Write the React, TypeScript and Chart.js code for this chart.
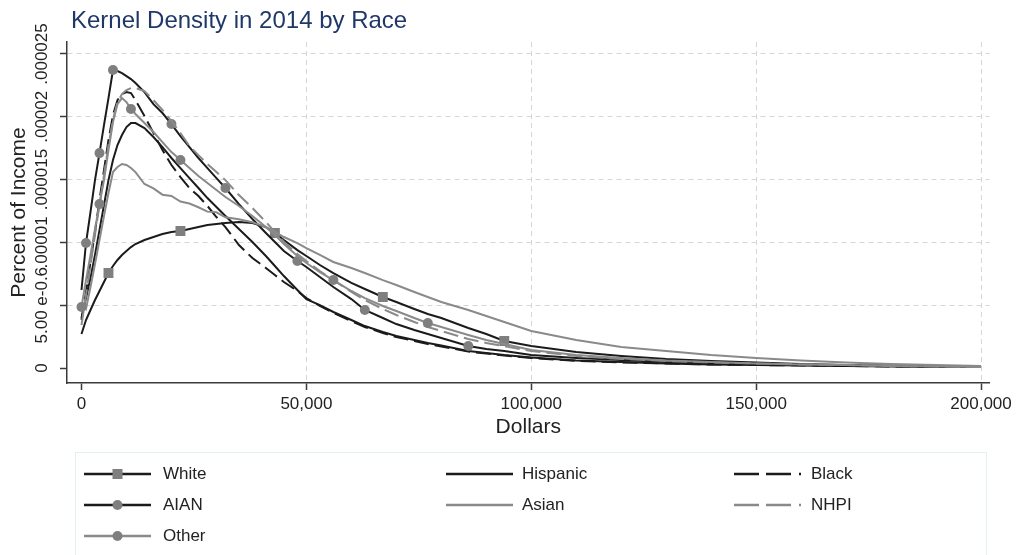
import React, { useEffect, useRef } from "react";
import { Chart, registerables } from "chart.js";

Chart.register(...registerables);

const FONT = '"Liberation Sans", Arial, Helvetica, sans-serif';
const INK = "#1b1b1b";
const GREY = "#8a8a8a";
const MARK = "#7f7f7f";
const TEXT = "#222222";
const NAVY = "#1f3868";

const chartTitle = "Kernel Density in 2014 by Race";
const xTitle = "Dollars";
const yTitle = "Percent of Income";

// Income points (dollars) at which each density was evaluated
const incomeGrid = [
  0, 1000, 2000, 3000, 4000, 5000, 6000, 7000, 8000, 9000, 10000, 11000, 12000,
  14000, 16000, 18000, 20000, 22000, 24000, 26000, 28000, 30000, 32000, 35000,
  38000, 41000, 43000, 45000, 48000, 50000, 53000, 56000, 60000, 63000, 67000,
  70000, 74000, 77000, 80000, 86000, 90000, 94000, 100000, 110000, 120000,
  130000, 140000, 150000, 160000, 170000, 180000, 190000, 200000,
];

// Densities, in units of 1e-6
const white = [
  2.71, 3.82, 4.62, 5.41, 6.13, 6.85, 7.56, 8.12, 8.6, 9.0, 9.31, 9.63, 9.87,
  10.19, 10.43, 10.67, 10.83, 10.91, 11.06, 11.22, 11.38, 11.46, 11.54, 11.62,
  11.54, 11.22, 10.75, 10.19, 9.39, 8.92, 8.2, 7.56, 6.77, 6.29, 5.65, 5.25,
  4.7, 4.3, 3.98, 3.18, 2.71, 2.15, 1.75, 1.27, 0.96, 0.72, 0.56, 0.44, 0.32,
  0.24, 0.2, 0.16, 0.12,
];
const hispanic = [
  3.98, 5.57, 7.16, 9.0, 10.98, 12.97, 14.96, 16.56, 17.75, 18.55, 19.18, 19.5,
  19.5, 19.1, 18.39, 17.59, 16.72, 15.92, 15.12, 14.33, 13.53, 12.82, 12.1,
  11.06, 10.03, 8.92, 8.12, 7.32, 6.21, 5.49, 5.01, 4.46, 3.82, 3.34, 2.87,
  2.55, 2.23, 1.99, 1.79, 1.35, 1.19, 1.03, 0.84, 0.6, 0.48, 0.36, 0.28, 0.24,
  0.2, 0.16, 0.12, 0.08, 0.08,
];
const black = [
  3.82, 6.05, 8.44, 10.83, 13.37, 15.76, 18.15, 20.14, 21.33, 21.81, 21.97,
  21.89, 21.33, 20.06, 18.71, 17.35, 16.16, 15.2, 14.33, 13.69, 12.9, 12.02,
  11.22, 9.79, 8.76, 7.96, 7.4, 6.85, 6.13, 5.57, 4.94, 4.38, 3.74, 3.26, 2.79,
  2.47, 2.15, 1.91, 1.71, 1.31, 1.15, 1.0, 0.8, 0.56, 0.44, 0.36, 0.28, 0.24,
  0.2, 0.16, 0.12, 0.08, 0.08,
];
const aian = [
  6.21, 9.95, 12.42, 14.96, 17.11, 19.34, 21.49, 23.72, 23.64, 23.48, 23.24,
  23.0, 22.69, 21.97, 21.01, 20.3, 19.42, 18.47, 17.59, 16.72, 15.92, 15.12,
  14.33, 13.05, 11.86, 10.75, 10.03, 9.31, 8.52, 8.04, 7.24, 6.45, 5.49, 4.62,
  3.98, 3.5, 3.02, 2.71, 2.39, 1.75, 1.51, 1.35, 1.03, 0.8, 0.64, 0.48, 0.4,
  0.32, 0.24, 0.2, 0.16, 0.12, 0.08,
];
const asian = [
  5.17, 4.7, 6.45, 8.28, 10.19, 12.1, 13.93, 15.6, 16.0, 16.24, 16.16, 15.92,
  15.6, 14.65, 14.3, 13.8, 13.7, 13.25, 13.1, 12.8, 12.45, 12.4, 12.0, 11.85,
  11.6, 11.22, 10.83, 10.43, 9.95, 9.55, 9.0, 8.44, 7.96, 7.56, 7.0, 6.61,
  6.05, 5.65, 5.25, 4.62, 4.14, 3.66, 2.95, 2.23, 1.67, 1.35, 1.03, 0.8, 0.6,
  0.44, 0.32, 0.24, 0.16,
];
const nhpi = [
  3.42, 5.81, 8.2, 10.59, 12.97, 15.36, 17.75, 19.74, 21.17, 21.81, 22.13,
  22.29, 22.29, 22.05, 21.33, 20.54, 19.66, 18.71, 17.67, 16.95, 16.24, 15.6,
  14.96, 13.77, 12.74, 11.62, 10.83, 10.03, 9.07, 8.52, 7.72, 7.0, 6.05, 5.41,
  4.7, 4.22, 3.66, 3.26, 2.95, 2.31, 1.99, 1.75, 1.35, 0.96, 0.72, 0.56, 0.44,
  0.36, 0.28, 0.24, 0.16, 0.12, 0.08,
];
const other = [
  4.86, 7.0, 9.0, 11.06, 13.05, 14.96, 17.35, 19.58, 21.01, 21.49, 21.17,
  20.62, 20.22, 19.5, 18.79, 17.99, 17.19, 16.56, 15.92, 15.28, 14.73, 14.17,
  13.61, 12.9, 12.1, 11.22, 10.59, 9.87, 8.92, 8.36, 7.64, 7.0, 6.13, 5.57,
  4.94, 4.54, 3.98, 3.58, 3.26, 2.63, 2.23, 1.91, 1.43, 1.03, 0.8, 0.6, 0.48,
  0.36, 0.28, 0.24, 0.16, 0.12, 0.08,
];

// Indices of incomeGrid where symbols are placed
const whiteMarks = [6, 17, 26, 34, 41];
const aianMarks = [1, 4, 7, 16, 22, 28, 33, 39];
const otherMarks = [0, 4, 11, 17, 31, 37];

const xTickValues = [0, 50000, 100000, 150000, 200000];
const xTickLabels = ["0", "50,000", "100,000", "150,000", "200,000"];
const yTickValues = [0, 0.000005, 0.00001, 0.000015, 0.00002, 0.000025];
const yTickLabels = ["0", "5.00 e-0.6", ".00001", ".000015", ".00002", ".000025"];

type Marker = "rect" | "circle" | null;
type Series = {
  label: string;
  values: number[];
  color: string;
  dash: number[];
  marker: Marker;
  marks: number[];
};

const LONG_DASH = [15, 6];

const series: Series[] = [
  { label: "White", values: white, color: INK, dash: [], marker: "rect", marks: whiteMarks },
  { label: "Hispanic", values: hispanic, color: INK, dash: [], marker: null, marks: [] },
  { label: "Black", values: black, color: INK, dash: LONG_DASH, marker: null, marks: [] },
  { label: "AIAN", values: aian, color: INK, dash: [], marker: "circle", marks: aianMarks },
  { label: "Asian", values: asian, color: GREY, dash: [], marker: null, marks: [] },
  { label: "NHPI", values: nhpi, color: GREY, dash: LONG_DASH, marker: null, marks: [] },
  { label: "Other", values: other, color: GREY, dash: [], marker: "circle", marks: otherMarks },
];

// Legend grid: three columns, three rows
const legendLineX = [84, 446, 734];
const legendTextX = [163, 522, 811];
const legendRowY = [474, 505, 536];
const LEGEND_LINE_LEN = 67;

const frameText = {
  id: "frameText",
  afterDraw(chart: any) {
    const { ctx } = chart;
    const yScale = chart.scales.y;
    ctx.save();
    ctx.fillStyle = NAVY;
    ctx.font = `24px ${FONT}`;
    ctx.textAlign = "left";
    ctx.textBaseline = "alphabetic";
    ctx.fillText(chartTitle, 71, 28);

    // vertical tick labels on the density axis
    ctx.fillStyle = TEXT;
    ctx.font = `17px ${FONT}`;
    ctx.textAlign = "center";
    ctx.textBaseline = "middle";
    yTickValues.forEach((v, i) => {
      const py = yScale.getPixelForValue(v);
      ctx.save();
      ctx.translate(42, py);
      ctx.rotate(-Math.PI / 2);
      ctx.fillText(yTickLabels[i], 0, 0);
      ctx.restore();
    });
    ctx.restore();
  },
};

export default function App() {
  const canvasRef = useRef<HTMLCanvasElement>(null);

  useEffect(() => {
    document.body.style.margin = "0";
    const canvas = canvasRef.current;
    if (!canvas) return;

    const gridColor = (c: any) =>
      c.tick && c.tick.value === 0 ? "rgba(0,0,0,0)" : "#d6d6d6";

    const chart = new Chart(canvas, {
      type: "line",
      data: {
        datasets: series.map((s, idx) => ({
          label: s.label,
          data: incomeGrid.map((x, i) => ({ x, y: s.values[i] * 1e-6 })),
          borderColor: s.color,
          borderDash: s.dash,
          borderWidth: 2,
          fill: false,
          tension: 0,
          order: series.length - idx,
          pointStyle: s.marker ?? "circle",
          pointRadius: (c: any) =>
            s.marks.includes(c.dataIndex) ? (s.marker === "rect" ? 7 : 5) : 0,
          pointBackgroundColor: MARK,
          pointBorderColor: MARK,
          pointBorderWidth: 0,
        })),
      },
      options: {
        animation: false,
        responsive: false,
        devicePixelRatio: 1,
        layout: { padding: { top: 42, right: 26, bottom: 112, left: 0 } },
        plugins: {
          legend: { display: false },
          tooltip: { enabled: false },
          title: { display: false },
        },
        scales: {
          x: {
            type: "linear",
            min: -3222,
            max: 201900,
            afterBuildTicks: (s: any) => {
              s.ticks = xTickValues.map((value) => ({ value }));
            },
            afterFit: (s: any) => {
              s.height = 60;
            },
            ticks: {
              autoSkip: false,
              maxRotation: 0,
              minRotation: 0,
              padding: 4,
              color: TEXT,
              font: { size: 17, family: FONT },
              callback: (v: any) => {
                const k = xTickValues.indexOf(Number(v));
                return k >= 0 ? xTickLabels[k] : "";
              },
            },
            grid: {
              color: gridColor,
              lineWidth: 1,
              tickLength: 7,
              tickColor: "#3a3a3a",
              tickWidth: 1.5,
            },
            border: { display: true, color: "#3a3a3a", width: 1.5, dash: [5, 4] },
            title: {
              display: true,
              text: xTitle,
              color: TEXT,
              font: { size: 21, family: FONT },
              padding: { top: 0, bottom: 3 },
            },
          },
          y: {
            type: "linear",
            min: -0.000001194,
            max: 0.000025955,
            afterBuildTicks: (s: any) => {
              s.ticks = yTickValues.map((value) => ({ value }));
            },
            afterFit: (s: any) => {
              s.width = 67;
            },
            ticks: { display: false },
            grid: {
              color: gridColor,
              lineWidth: 1,
              tickLength: 7,
              tickColor: "#3a3a3a",
              tickWidth: 1.5,
            },
            border: { display: true, color: "#3a3a3a", width: 1.5, dash: [5, 4] },
            title: {
              display: true,
              text: yTitle,
              color: TEXT,
              font: { size: 21, family: FONT },
              padding: { top: 7, bottom: 0 },
            },
          },
        },
      } as any,
      plugins: [frameText],
    });

    return () => chart.destroy();
  }, []);

  const dashFor = (s: Series) => (s.dash.length ? "25 7 25 8 2 60" : undefined);

  return (
    <div
      style={{
        position: "relative",
        width: 1016,
        height: 555,
        overflow: "hidden",
        background: "#ffffff",
        fontFamily: FONT,
      }}
    >
      <canvas
        ref={canvasRef}
        width={1016}
        height={555}
        style={{ position: "absolute", left: 0, top: 0, width: 1016, height: 555 }}
      />
      <div
        style={{
          position: "absolute",
          left: 75,
          top: 452,
          width: 912,
          height: 130,
          border: "1px solid #e2f0f3",
          boxSizing: "border-box",
        }}
      />
      <svg
        width={1016}
        height={555}
        style={{ position: "absolute", left: 0, top: 0, pointerEvents: "none" }}
      >
        {series.map((s, i) => {
          const col = i < 6 ? i % 3 : 0;
          const row = Math.floor(i / 3);
          const x0 = legendLineX[col];
          const y0 = legendRowY[row];
          const mid = x0 + LEGEND_LINE_LEN / 2;
          return (
            <g key={s.label}>
              <line
                x1={x0}
                x2={x0 + LEGEND_LINE_LEN}
                y1={y0}
                y2={y0}
                stroke={s.color}
                strokeWidth={2.5}
                strokeDasharray={dashFor(s)}
              />
              {s.marker === "rect" && (
                <rect x={mid - 5} y={y0 - 5} width={10} height={10} fill={MARK} />
              )}
              {s.marker === "circle" && <circle cx={mid} cy={y0} r={5} fill={MARK} />}
            </g>
          );
        })}
      </svg>
      {series.map((s, i) => {
        const col = i < 6 ? i % 3 : 0;
        const row = Math.floor(i / 3);
        return (
          <div
            key={s.label}
            style={{
              position: "absolute",
              left: legendTextX[col],
              top: legendRowY[row] - 11,
              height: 22,
              lineHeight: "22px",
              fontSize: 17,
              color: TEXT,
              whiteSpace: "nowrap",
            }}
          >
            {s.label}
          </div>
        );
      })}
    </div>
  );
}
